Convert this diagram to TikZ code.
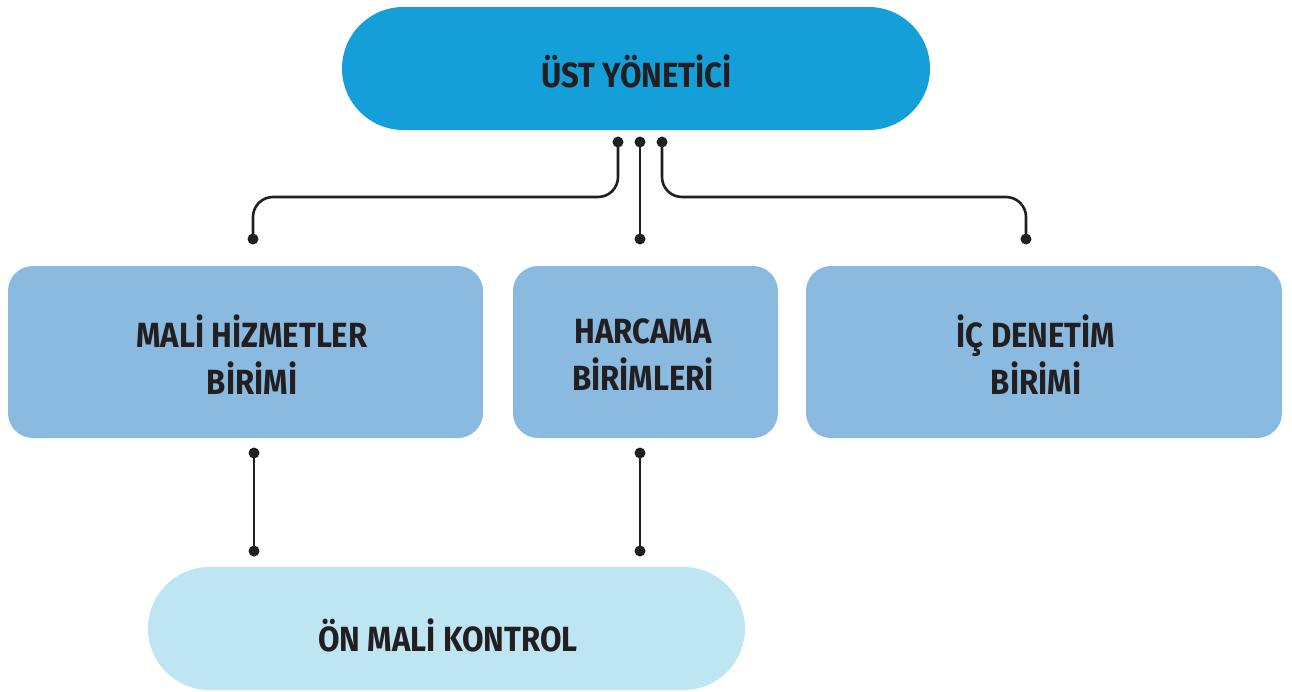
\documentclass[tikz,border=0pt]{standalone}
\usepackage{fontspec}
\newfontfamily\lbl{Fira Sans}[FakeStretch=0.89]
\definecolor{topblue}{HTML}{149FD9}
\definecolor{midblue}{HTML}{8BBAE0}
\definecolor{lowblue}{HTML}{BEE5F2}
\definecolor{ink}{HTML}{231F20}
\begin{document}
\begin{tikzpicture}[x=1pt,y=-1pt,
  lab/.style={font=\lbl\bfseries\fontsize{35}{47}\selectfont, text=ink, align=center, inner sep=0pt},
  pill/.style={rounded corners=61.5pt, minimum height=123pt, inner sep=0pt},
  unitbox/.style={fill=midblue, rounded corners=25pt, minimum height=172pt, inner sep=0pt},
  dot/.style={circle, fill=ink, minimum size=11pt, inner sep=0pt},
  wire/.style={draw=ink, line width=2.6pt, rounded corners=20pt}]
\useasboundingbox (0,0) rectangle (1292,691);
\node[pill, fill=topblue, minimum width=588pt] (top) at (636,68.5) {};
\node[unitbox, minimum width=475pt] (mali) at (245.5,352) {};
\node[unitbox, minimum width=265pt] (harc) at (645.5,352) {};
\node[unitbox, minimum width=476pt] (ic) at (1044,352) {};
\node[pill, fill=lowblue, minimum width=597pt] (on) at (446.5,628.5) {};
% texts
\node[lab] (toptext) at (636.5,71) {ÜST YÖNETİCİ};
\node[lab] (malitext) at (252,355) {MALİ HİZMETLER\\BİRİMİ};
\node[lab] (harctext) at (643,355) {HARCAMA\\BİRİMLERİ};
\node[lab] (ictext) at (1036,355) {İÇ DENETİM\\BİRİMİ};
\node[lab] (ontext) at (448,635) {ÖN MALİ KONTROL};
% dots
\node[dot] (u1) at (618,142) {};
\node[dot] (u2) at (640,142) {};
\node[dot] (u3) at (662,142) {};
\node[dot] (d1) at (253,239) {};
\node[dot] (d2) at (640,239) {};
\node[dot] (d3) at (1026,239) {};
\node[dot] (b1) at (254,453) {};
\node[dot] (b2) at (640,453) {};
\node[dot] (c1) at (254,551) {};
\node[dot] (c2) at (640,551) {};
\coordinate (h) at (0,197);
\draw[wire] (u1.center) -- (u1 |- h) -- (d1 |- h) -- (d1.center);
\draw[wire] (u2.center) -- (d2.center);
\draw[wire] (u3.center) -- (u3 |- h) -- (d3 |- h) -- (d3.center);
\draw[wire] (b1.center) -- (c1.center);
\draw[wire] (b2.center) -- (c2.center);
\end{tikzpicture}
\end{document}
